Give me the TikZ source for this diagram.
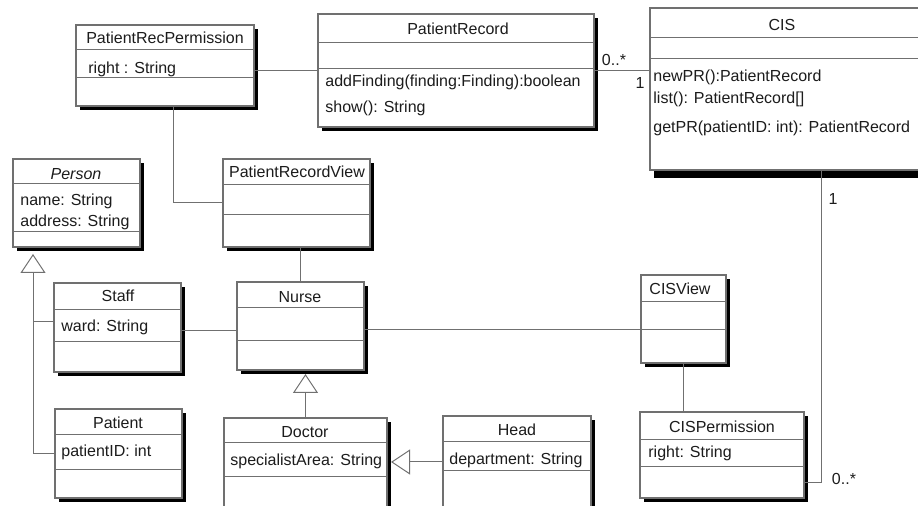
\documentclass[tikz,border=0pt]{standalone}
\usepackage{fontspec}
\setmainfont{Liberation Sans}
\usetikzlibrary{arrows.meta, fit, shadows}
\definecolor{edgegray}{RGB}{112,112,112}
\definecolor{inkcolor}{RGB}{28,28,28}

\begin{document}
\begin{tikzpicture}[
    x=0.5pt, y=-0.5pt,
    cls/.style={rectangle, draw=edgegray, fill=white, line width=0.6pt, inner sep=0pt, outer sep=0pt,
        drop shadow={shadow xshift=2pt, shadow yshift=-2pt, fill=black, opacity=1}},
    sep/.style={draw=edgegray, line width=0.5pt},
    ttl/.style={font=\fontsize{8}{9}\selectfont, text=inkcolor, inner sep=0pt},
    attr/.style={ttl, anchor=west},
    link/.style={draw=edgegray, line width=0.5pt},
    inh/.style={link, -{Triangle[open, length=9.5pt, width=12.5pt]}},
]
    \useasboundingbox (0,0) rectangle (918,506);
    \clip (0,0) rectangle (918,506);

    % Class boxes: name/left/top/right/bottom/first sep/second sep
    \foreach \n/\l/\t/\r/\b/\sa/\sb in {
        prp/76/25/254/106/50/78,
        pr/318/14/594/127/43/69,
        person/13/159/140/247/184/232,
        prv/223/159/370/247/185/215,
        staff/54/283/181/372/310/342,
        nurse/237/282/364/370/308/341,
        patient/55/409/182/498/435/470,
        doctor/224/418/387/508/443/477,
        head/443/416/591/508/442/471,
        cisv/641/275/726/363/302/330,
        cisp/640/412/804/498/440/467} {
        \node[cls, fit={(\l,\t) (\r,\b)}] (\n) {};
        \draw[sep] (\l,\sa) -- (\r,\sa);
        \draw[sep] (\l,\sb) -- (\r,\sb);
    }
    % CIS runs past the right edge and has a heavier shadow
    \node[cls, drop shadow={shadow xshift=2pt, shadow yshift=-4pt, fill=black, opacity=1},
        fit={(650,8) (992,170)}] (cis) {};
    \draw[sep] (650,38) -- (992,38);
    \draw[sep] (650,59) -- (992,59);

    % Names and members
    \node[ttl] (prp-t) at (165,38) {PatientRecPermission};
    \node[attr] (prp-a) at (88,69) {right : String};

    \node[ttl] (pr-t) at (458,29) {PatientRecord};
    \node[attr] (pr-o1) at (325,82) {addFinding(finding:Finding):boolean};
    \node[attr] (pr-o2) at (325,108) {show(): String};

    \node[ttl] (cis-t) at (782,25) {CIS};
    \node[attr] (cis-o1) at (653,77) {newPR():PatientRecord};
    \node[attr] (cis-o2) at (653,99) {list(): PatientRecord[]};
    \node[attr] (cis-o3) at (653,128) {getPR(patientID: int): PatientRecord};

    \node[ttl] (person-t) at (76,174) {\itshape Person};
    \node[attr] (person-a1) at (20,201) {name: String};
    \node[attr] (person-a2) at (20,222) {address: String};

    \node[ttl] (prv-t) at (297,172) {PatientRecordView};
    \node[ttl] (nurse-t) at (300,297) {Nurse};

    \node[ttl] (staff-t) at (118,296) {Staff};
    \node[attr] (staff-a) at (61,327) {ward: String};

    \node[ttl] (patient-t) at (118,423) {Patient};
    \node[attr] (patient-a) at (61,452) {patientID: int};

    \node[ttl] (doctor-t) at (305,432) {Doctor};
    \node[attr] (doctor-a) at (230,461) {specialistArea: String};

    \node[ttl] (head-t) at (517,430) {Head};
    \node[attr] (head-a) at (449,460) {department: String};

    \node[ttl] (cisv-t) at (680,289) {CISView};

    \node[ttl] (cisp-t) at (722,427) {CISPermission};
    \node[attr] (cisp-a) at (648,453) {right: String};

    % Associations
    \draw[link] (prp.east |- pr.west) -- (pr.west);
    \draw[link] (pr.east) -- (pr.east -| cis.west);
    \draw[link] ([xshift=4pt]prp.south) |- (prv.west);
    \draw[link] (nurse.north) -- (nurse.north |- prv.south);
    \draw[link] ([yshift=-1.5pt]staff.east) -- ([yshift=-1.5pt]staff.east -| nurse.west);
    \draw[link] ([yshift=-2pt]nurse.east) -- ([yshift=-2pt]nurse.east -| cisv.west);
    \draw[link] (cisv.south) -- (cisv.south |- cisp.north);
    \draw[link] ([yshift=-14pt]cisp.east) -| (cis.south);

    % Generalisations
    \coordinate (pa) at ([xshift=10pt, yshift=-3.5pt]person.south west);
    \draw[inh] (patient.west) -| (pa);
    \draw[link] ([yshift=3pt]staff.west) -- ([yshift=3pt]staff.west -| pa);
    \draw[inh] (doctor.north) -- ([yshift=-2pt]doctor.north |- nurse.south);
    \draw[inh] (head.west) -- ([xshift=2pt]head.west -| doctor.east);

    % Multiplicities
    \node[ttl] (m-pr) at (614,60) {0..*};
    \node[ttl] (m-cis) at (640,83) {1};
    \node[ttl] (m-cis2) at (833,199) {1};
    \node[ttl] (m-cisp) at (844,479) {0..*};
\end{tikzpicture}
\end{document}
